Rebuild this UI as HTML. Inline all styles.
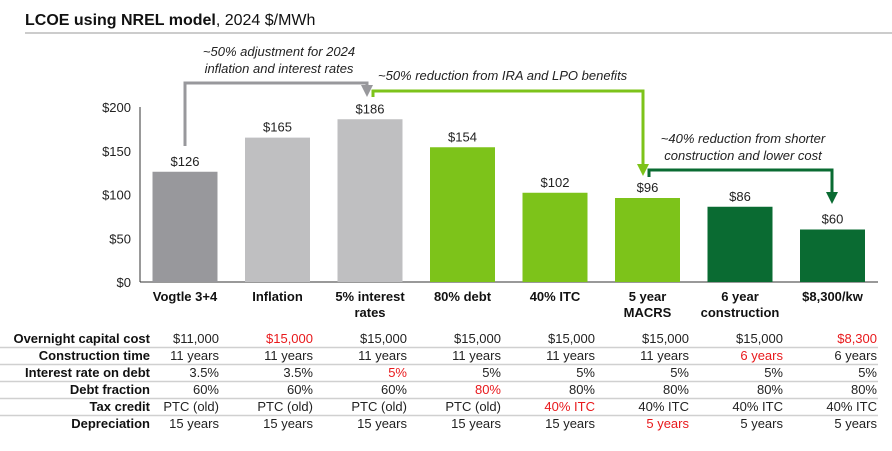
<!DOCTYPE html>
<html><head><meta charset="utf-8"><style>
body{margin:0;background:#fff;width:892px;height:446px;overflow:hidden;font-family:"Liberation Sans",Arial,sans-serif}
svg text{font-family:"Liberation Sans",Arial,sans-serif}
</style></head><body>
<svg id="c" width="892" height="446" viewBox="0 0 892 446" xmlns="http://www.w3.org/2000/svg">
<defs>
<marker id="ag" markerWidth="4" markerHeight="4" refX="2" refY="2" orient="auto" markerUnits="strokeWidth"><path d="M0,0 L4,2 L0,4z" fill="#98989c"/></marker>
<marker id="al" markerWidth="4" markerHeight="4" refX="2" refY="2" orient="auto" markerUnits="strokeWidth"><path d="M0,0 L4,2 L0,4z" fill="#7dc31a"/></marker>
<marker id="ad" markerWidth="4" markerHeight="4" refX="2" refY="2" orient="auto" markerUnits="strokeWidth"><path d="M0,0 L4,2 L0,4z" fill="#0a6b32"/></marker>
</defs>
<text x="25" y="25" font-size="16" fill="#111"><tspan font-weight="bold">LCOE using NREL model</tspan>, 2024 $/MWh</text>
<line x1="25" y1="33" x2="892" y2="33" stroke="#bbb" stroke-width="1.5"/>
<g id="axis"></g>
<g id="bars"></g>
<g id="tbl"></g>
<g font-style="italic" font-size="13" fill="#222">
<text x="279" y="56" text-anchor="middle">~50% adjustment for 2024</text>
<text x="279" y="73" text-anchor="middle">inflation and interest rates</text>
<text x="378" y="80">~50% reduction from IRA and LPO benefits</text>
<text x="743" y="143" text-anchor="middle">~40% reduction from shorter</text>
<text x="743" y="160" text-anchor="middle">construction and lower cost</text>
<path d="M185,146 V83 H367 V91" fill="none" stroke="#98989c" stroke-width="3" marker-end="url(#ag)"/>
<path d="M373,97 V91 H643 V170" fill="none" stroke="#7dc31a" stroke-width="3" marker-end="url(#al)"/>
<path d="M649,177 V170 H832 V198" fill="none" stroke="#0a6b32" stroke-width="3" marker-end="url(#ad)"/>
</g>
</svg>
<script>
const categories=["Vogtle 3+4","Inflation","5% interest|rates","80% debt","40% ITC","5 year|MACRS","6 year|construction","$8,300/kw"];
const values=[126,165,186,154,102,96,86,60];
const yTicks=[0,50,100,150,200];
const colors=["#98989c","#bfbfc1","#bfbfc1","#7dc31a","#7dc31a","#7dc31a","#0a6b32","#0a6b32"];
const rowLabels=["Overnight capital cost","Construction time","Interest rate on debt","Debt fraction","Tax credit","Depreciation"];
const rowCapital=["$11,000","$15,000","$15,000","$15,000","$15,000","$15,000","$15,000","$8,300"];
const rowConstruction=["11 years","11 years","11 years","11 years","11 years","11 years","6 years","6 years"];
const rowInterest=["3.5%","3.5%","5%","5%","5%","5%","5%","5%"];
const rowDebt=["60%","60%","60%","80%","80%","80%","80%","80%"];
const rowTax=["PTC (old)","PTC (old)","PTC (old)","PTC (old)","40% ITC","40% ITC","40% ITC","40% ITC"];
const rowDep=["15 years","15 years","15 years","15 years","15 years","5 years","5 years","5 years"];
const changedCol=[1,6,2,3,4,5];
const changedCol2=[7,-1,-1,-1,-1,-1];
const NS="http://www.w3.org/2000/svg";
function el(t,a,p,txt){const e=document.createElementNS(NS,t);for(const k in a)e.setAttribute(k,a[k]);if(txt!=null)e.textContent=txt;p.appendChild(e);return e;}
const y0=282,yTop=107,yMax=200;
const y=v=>y0-(v/yMax)*(y0-yTop);
const x=i=>152.5+i*92.5;
const bw=65;
const ax=document.getElementById('axis');
let l=el('line',{x1:140,y1:y(yMax),x2:140,y2:y0,stroke:'#333','stroke-width':1},ax);


l=el('line',{x1:140,y1:y0,x2:878,y2:y0,stroke:'#333','stroke-width':1},ax);


yTicks.forEach(t=>{const e=el('text',{x:131,y:y(t)+5,'text-anchor':'end','font-size':13,fill:'#222'},ax,'$'+t);

});
const bg=document.getElementById('bars');
values.forEach((v,i)=>{
const r=el('rect',{x:x(i),y:y(v),width:bw,height:y0-y(v),fill:colors[i]},bg);


const t=el('text',{x:x(i)+bw/2,y:y(v)-6,'text-anchor':'middle','font-size':13,fill:'#222'},bg,'$'+v);


categories[i].split('|').forEach((s,j)=>{const c=el('text',{x:x(i)+bw/2,y:301+j*16,'text-anchor':'middle','font-size':13,'font-weight':'bold',fill:'#111'},bg,s);

});
});
const tb=document.getElementById('tbl');
const rows=[rowCapital,rowConstruction,rowInterest,rowDebt,rowTax,rowDep];
rows.forEach((row,r)=>{
const ry=343+r*17;
if(r<5){const s=el('line',{x1:0,y1:ry+4.5,x2:878,y2:ry+4.5,stroke:'#d0d0d0','stroke-width':1.5},tb);

}
const lb=el('text',{x:150,y:ry,'text-anchor':'end','font-size':13,'font-weight':'bold',fill:'#111'},tb,rowLabels[r]);


row.forEach((v,i)=>{const red=(changedCol[r]===i||changedCol2[r]===i);
const c=el('text',{x:219+i*94,y:ry,'text-anchor':'end','font-size':13,fill:red?'#e8191c':'#222'},tb,v);

});
});
</script>
</body></html>
